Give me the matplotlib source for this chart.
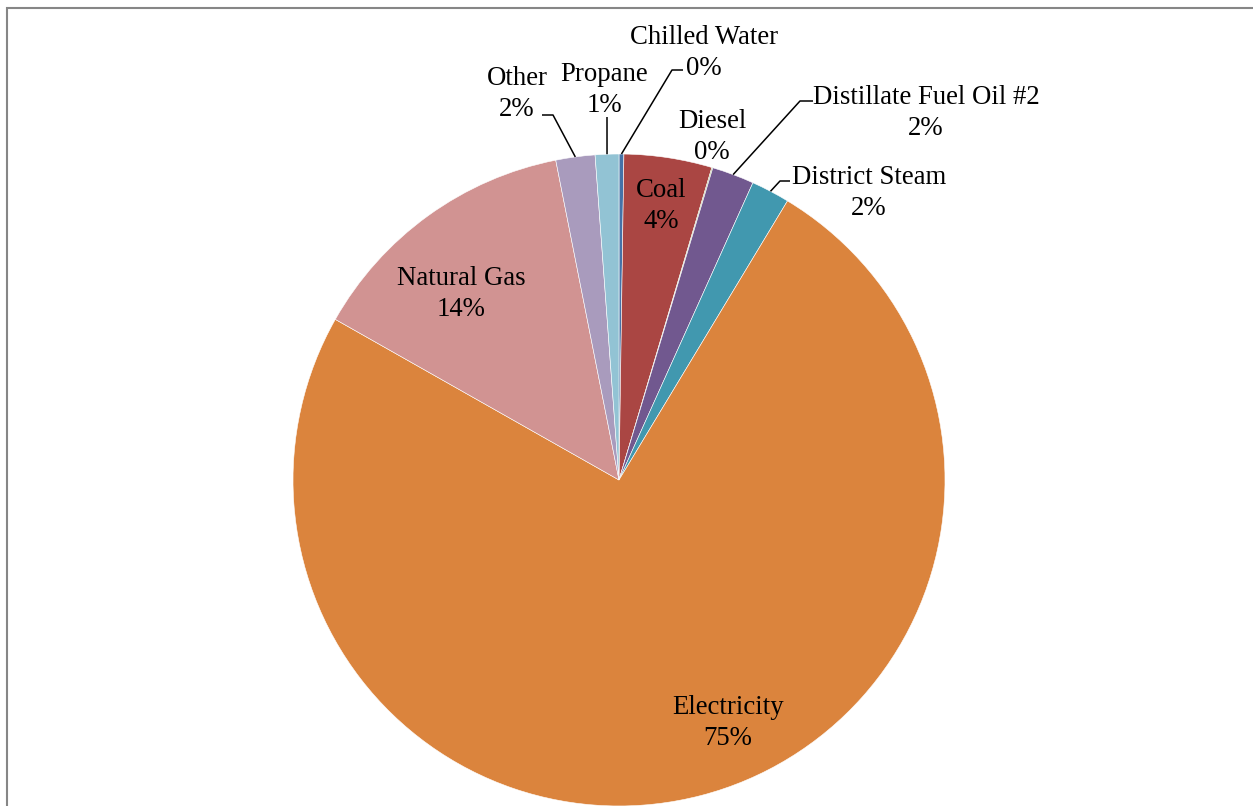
import matplotlib
matplotlib.use("Agg")
import matplotlib.pyplot as plt
import numpy as np

# Energy use by source (share of total, percent)
categories = ["Chilled Water", "Coal", "Diesel", "Distillate Fuel Oil #2",
              "District Steam", "Electricity", "Natural Gas", "Other", "Propane"]
shares = [0.24, 4.36, 0.05, 2.09, 1.91, 74.6, 13.7, 1.94, 1.17]

colors = ["#4572A7", "#AA4643", "#89A54E", "#71588F", "#4198AF",
          "#DB843D", "#D19392", "#A99BBD", "#92C3D4"]

W, H = 1253, 806
fig = plt.figure(figsize=(W / 100, H / 100), dpi=100)
ax = fig.add_axes([0, 0, 1, 1])

cx, cy, r = 619, H - 480, 326
wedges, _ = ax.pie(shares, colors=colors, startangle=90, counterclock=False,
                   center=(cx, cy), radius=r, frame=True,
                   wedgeprops=dict(edgecolor="white", linewidth=0.4))
ax.set_xlim(0, W)
ax.set_ylim(0, H)
ax.axis("off")

total = sum(shares)
pct = [f"{round(v / total * 100)}%" for v in shares]

font = dict(family="Liberation Serif", size=19.3, color="black",
            ha="center", va="center", linespacing=1.33)

# label centre positions (pixel space, y measured from top) and leader elbows
layout = {
    "Chilled Water": dict(pos=(704, 53), elbow=[(672, 70), (683, 70)]),
    "Coal": dict(pos=(661, 206)),
    "Diesel": dict(pos=(712, 137)),
    "Distillate Fuel Oil #2": dict(pos=(926, 113), elbow=[(800, 101), (813, 101)]),
    "District Steam": dict(pos=(869, 193), elbow=[(780, 181), (790, 181)]),
    "Electricity": dict(pos=(728, 723)),
    "Natural Gas": dict(pos=(461, 294)),
    "Other": dict(pos=(517, 94), elbow=[(553, 115), (542, 115)]),
    "Propane": dict(pos=(604, 90), elbow=[(607, 117)]),
}

for name, w, p in zip(categories, wedges, pct):
    spec = layout[name]
    x, y = spec["pos"]
    ax.text(x, H - y, f"{name}\n{p}", **font)
    if "elbow" in spec:
        mid = np.deg2rad((w.theta1 + w.theta2) / 2)
        pts = [(cx + r * np.cos(mid), cy + r * np.sin(mid))]
        pts += [(ex, H - ey) for ex, ey in spec["elbow"]]
        xs, ys = zip(*pts)
        ax.plot(xs, ys, color="black", linewidth=1.1, solid_capstyle="butt")

# chart area frame
ax.plot([7, 7, W + 5], [-5, H - 7.5, H - 7.5], color="#868686", linewidth=1.5,
        solid_joinstyle="miter", clip_on=False)

fig.savefig("out.png", dpi=100, facecolor="white")
